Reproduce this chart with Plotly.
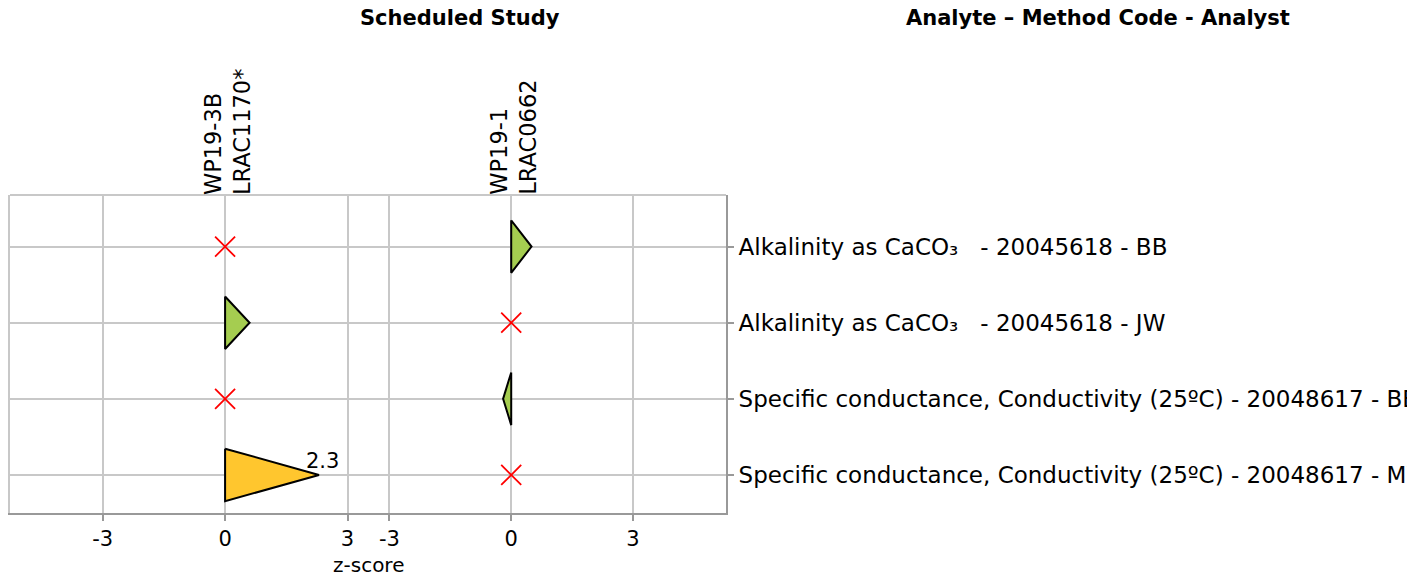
import plotly.graph_objects as go

# ---- data ----
studies = ["WP19-3B<br>LRAC1170*", "WP19-1<br>LRAC0662"]
analytes = [
    "Alkalinity as CaCO\u2083\u00a0\u00a0 - 20045618 - BB",
    "Alkalinity as CaCO\u2083\u00a0\u00a0 - 20045618 - JW",
    "Specific conductance, Conductivity (25\u00baC) - 20048617 - BB",
    "Specific conductance, Conductivity (25\u00baC) - 20048617 - MW",
]
# z-scores per study (None = not reported -> red cross)
z_study1 = [None, 0.6, None, 2.3]
z_study2 = [0.5, None, -0.2, None]
labels_study1 = [None, None, None, "2.3"]
labels_study2 = [None, None, None, None]

FONT = "Verdana, DejaVu Sans, sans-serif"
GREEN = "#A5CD50"
YELLOW = "#FFC62E"
HALF_H = 0.345

OFF = 8  # browser body margin
W, H = 1415 - OFF, 573 - OFF
L, R_EDGE, T, B_EDGE = 10 - OFF, 725.7 - OFF, 194.7 - OFF, 512.7 - OFF
SPLIT = 368 - OFF
X0_1, X0_2 = 225 - OFF, 511 - OFF

fig = go.Figure()

def color_for(z):
    return YELLOW if abs(z) >= 2 else GREEN

for k, (zs, labs) in enumerate([(z_study1, labels_study1), (z_study2, labels_study2)]):
    xa = "x" if k == 0 else "x2"
    ya = "y" if k == 0 else "y2"
    cross_y = []
    for i, z in enumerate(zs):
        if z is None:
            cross_y.append(i)
            continue
        fig.add_trace(go.Scatter(
            x=[0, z, 0, 0], y=[i - HALF_H, i, i + HALF_H, i - HALF_H],
            mode="lines", fill="toself", fillcolor=color_for(z),
            line=dict(color="black", width=2), xaxis=xa, yaxis=ya,
            showlegend=False, hoverinfo="skip"))
        if labs[i]:
            fig.add_annotation(x=z, y=i, xref=xa, yref=ya, text=labs[i],
                               showarrow=False, xanchor="center", yanchor="bottom",
                               xshift=4, yshift=0, font=dict(size=21, color="black", family=FONT))
    fig.add_trace(go.Scatter(
        x=[0] * len(cross_y), y=cross_y, mode="markers",
        marker=dict(symbol="x-thin", size=20, line=dict(color="red", width=1.8)),
        xaxis=xa, yaxis=ya, showlegend=False, hoverinfo="skip"))
    fig.add_annotation(x=0, y=1, xref=xa, yref="paper", text=studies[k],
                       showarrow=False, textangle=-90, xanchor="center", yanchor="bottom",
                       align="left", yshift=-2, xshift=2,
                       font=dict(size=22.5, color="black", family=FONT))

pw = R_EDGE - L
ph = B_EDGE - T
d1 = [0, (SPLIT - L) / pw]
d2 = [(SPLIT - L) / pw, 1]
px1 = 40.8
r1 = [(L - X0_1) / px1, (SPLIT - X0_1) / px1]
px2 = 40.6
r2 = [(SPLIT - X0_2) / px2, (R_EDGE - X0_2) / px2]

grid = "#C8C8C8"
axis_common = dict(showgrid=True, gridcolor=grid, gridwidth=1.5, zeroline=False,
                   tickvals=[-3, 0, 3], ticktext=["-3", "0", "3"],
                   ticks="outside", ticklen=6, tickcolor="#999", tickwidth=1.5,
                   showline=True, linecolor="#999", linewidth=2, automargin=False,
                   tickfont=dict(size=21, color="black", family=FONT))
fig.update_layout(
    xaxis=dict(domain=d1, range=r1, anchor="y", **axis_common),
    xaxis2=dict(domain=d2, range=r2, anchor="y2", **axis_common),
    yaxis=dict(range=[3.5, -0.678], tickvals=[0, 1, 2, 3], showticklabels=False,
               showgrid=True, gridcolor=grid, gridwidth=1.5, zeroline=False, automargin=False,
               showline=True, linecolor=grid, linewidth=2, anchor="x"),
    yaxis2=dict(range=[3.5, -0.678], tickvals=[0, 1, 2, 3], ticktext=analytes,
                side="right", anchor="x2", showgrid=True, gridcolor=grid, gridwidth=1.5,
                zeroline=False, showline=True, linecolor="#999", linewidth=2, automargin=False,
                ticks="outside", ticklen=6, tickcolor="#999", tickwidth=1.5,
                tickfont=dict(size=23, color="black", family=FONT)),
    width=W, height=H,
    margin=dict(l=L, r=W - R_EDGE, t=T, b=H - B_EDGE, pad=0, autoexpand=False),
    plot_bgcolor="white", paper_bgcolor="white",
    font=dict(family=FONT, size=20, color="black"),
)
# top border
fig.add_shape(type="line", xref="paper", yref="paper", x0=0, x1=1, y0=1, y1=1,
              line=dict(color=grid, width=2))
fig.add_annotation(x=(SPLIT - L) / pw, y=(H - (565 - OFF) - (H - B_EDGE)) / ph, xref="paper", yref="paper",
                   text="z-score", showarrow=False, xanchor="center", yanchor="middle",
                   font=dict(size=20, family=FONT))
title_y = (H - (18 - OFF) - (H - B_EDGE)) / ph
fig.add_annotation(x=(460 - OFF - L) / pw, y=title_y, xref="paper", yref="paper",
                   text="<b>Scheduled Study</b>", showarrow=False, xanchor="center", yanchor="middle",
                   font=dict(size=21, family=FONT))
fig.add_annotation(x=(1098 - OFF - L) / pw, y=title_y, xref="paper", yref="paper",
                   text="<b>Analyte \u2013 Method Code - Analyst</b>", showarrow=False,
                   xanchor="center", yanchor="middle",
                   font=dict(size=21, family=FONT))

fig.write_html("out.html")
